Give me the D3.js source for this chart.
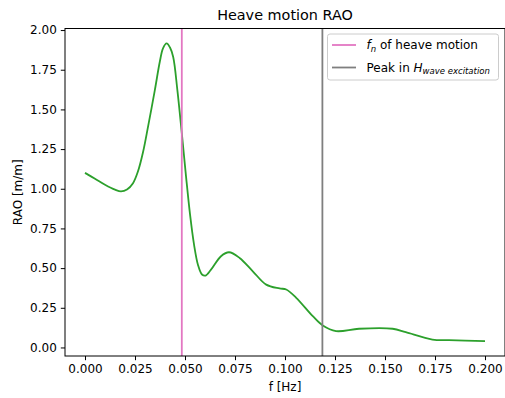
<!DOCTYPE html>
<html>
<head>
<meta charset="utf-8">
<script src="https://cdn.jsdelivr.net/npm/d3@7"></script>
<style>
  html, body { margin: 0; padding: 0; background: #fff; }
  svg { display: block; font-family: "DejaVu Sans", sans-serif; }
</style>
</head>
<body>
<svg id="chart" width="505" height="398"></svg>
<script>
// ---- data ----
const freqHz = [0, 0.005, 0.010, 0.015, 0.018, 0.021, 0.024, 0.0265, 0.029, 0.0315, 0.0349, 0.0374, 0.039, 0.0408, 0.0425, 0.0441, 0.0462, 0.0484, 0.0505, 0.0525, 0.0545, 0.0565, 0.0585, 0.0603, 0.063, 0.068, 0.072, 0.0773, 0.0839, 0.0906, 0.0973, 0.1006, 0.1056, 0.1139, 0.1189, 0.1255, 0.137, 0.1538, 0.1604, 0.1737, 0.182, 0.2];
const raoValues = [1.10, 1.063, 1.025, 0.994, 0.983, 0.995, 1.035, 1.11, 1.23, 1.39, 1.62, 1.80, 1.885, 1.916, 1.89, 1.83, 1.62, 1.35, 1.08, 0.84, 0.65, 0.52, 0.46, 0.453, 0.49, 0.575, 0.60, 0.564, 0.48, 0.396, 0.372, 0.365, 0.313, 0.197, 0.138, 0.103, 0.118, 0.118, 0.096, 0.05, 0.046, 0.04];
const naturalFreq = 0.0484;      // f_n of heave motion
const excitationPeakFreq = 0.1187; // peak in H_wave excitation
const xTicks = [0, 0.025, 0.05, 0.075, 0.1, 0.125, 0.15, 0.175, 0.2];
const yTicks = [0, 0.25, 0.5, 0.75, 1.0, 1.25, 1.5, 1.75, 2.0];

(function () {
// ---- layout ----
const svg = d3.select("#chart");
const pLeft = 65, pRight = 505, pTop = 28.5, pBottom = 356;

const xMin = d3.min(freqHz), xMax = d3.max(freqHz);
const xPad = (xMax - xMin) * 0.05;
const yMin = d3.min(raoValues), yMax = d3.max(raoValues);
const yPad = (yMax - yMin) * 0.05;

const x = d3.scaleLinear().domain([xMin - xPad, xMax + xPad]).range([pLeft, pRight]);
const y = d3.scaleLinear().domain([yMin - yPad, yMax + yPad]).range([pBottom, pTop]);

const data = freqHz.map((f, i) => ({ f, v: raoValues[i] }));

// curve
svg.append("path")
  .datum(data)
  .attr("fill", "none")
  .attr("stroke", "#2ca02c")
  .attr("stroke-width", 1.8)
  .attr("stroke-linejoin", "round")
  .attr("d", d3.line().x(d => x(d.f)).y(d => y(d.v)).curve(d3.curveCatmullRom.alpha(0.5)));

// vertical lines
svg.append("line")
  .attr("x1", x(naturalFreq)).attr("x2", x(naturalFreq))
  .attr("y1", pTop).attr("y2", pBottom)
  .attr("stroke", "#e377c2").attr("stroke-width", 1.8);
svg.append("line")
  .attr("x1", x(excitationPeakFreq)).attr("x2", x(excitationPeakFreq))
  .attr("y1", pTop).attr("y2", pBottom)
  .attr("stroke", "#7f7f7f").attr("stroke-width", 1.8);

// axes
const xAxis = svg.append("g")
  .attr("transform", `translate(0,${pBottom})`)
  .call(d3.axisBottom(x).tickValues(xTicks).tickFormat(d3.format(".3f")).tickSizeOuter(0).tickSize(4.2).tickPadding(4));
const yAxis = svg.append("g")
  .attr("transform", `translate(${pLeft},0)`)
  .call(d3.axisLeft(y).tickValues(yTicks).tickFormat(d3.format(".2f")).tickSizeOuter(0).tickSize(4.2).tickPadding(4));
[xAxis, yAxis].forEach(g => {
  g.select(".domain").remove();
  g.selectAll("text").attr("font-size", 12).attr("fill", "#000").attr("font-family", "DejaVu Sans");
  g.selectAll("line").attr("stroke", "#000").attr("stroke-width", 1);
});

// frame
svg.append("rect")
  .attr("x", pLeft).attr("y", pTop)
  .attr("width", pRight - pLeft).attr("height", pBottom - pTop)
  .attr("fill", "none").attr("stroke", "#000").attr("stroke-width", 1);

// title and labels
svg.append("text").attr("x", (pLeft + pRight) / 2).attr("y", 20)
  .attr("text-anchor", "middle").attr("font-size", 14.4).text("Heave motion RAO");
svg.append("text").attr("x", (pLeft + pRight) / 2).attr("y", 391)
  .attr("text-anchor", "middle").attr("font-size", 12).text("f [Hz]");
svg.append("text")
  .attr("transform", `translate(22,${(pTop + pBottom) / 2}) rotate(-90)`)
  .attr("text-anchor", "middle").attr("font-size", 12).text("RAO [m/m]");

// legend
const lg = svg.append("g");
lg.append("rect").attr("x", 327.5).attr("y", 34).attr("width", 171).attr("height", 46)
  .attr("rx", 2.5).attr("fill", "#fff").attr("fill-opacity", 0.8)
  .attr("stroke", "#cccccc").attr("stroke-width", 1);
const items = [
  { color: "#e377c2", y: 45 },
  { color: "#7f7f7f", y: 67.5 }
];
items.forEach(it => {
  lg.append("line").attr("x1", 332).attr("x2", 356).attr("y1", it.y).attr("y2", it.y)
    .attr("stroke", it.color).attr("stroke-width", 1.8);
});
const t1 = lg.append("text").attr("x", 366.5).attr("y", items[0].y + 4.3).attr("font-size", 12);
t1.append("tspan").attr("font-style", "italic").text("f");
t1.append("tspan").attr("font-style", "italic").attr("font-size", 8.5).attr("dy", 2.5).text("n");
t1.append("tspan").attr("dy", -2.5).text(" of heave motion");
const t2 = lg.append("text").attr("x", 366.5).attr("y", items[1].y + 4.3).attr("font-size", 12);
t2.append("tspan").text("Peak in ");
t2.append("tspan").attr("font-style", "italic").text("H");
t2.append("tspan").attr("font-style", "italic").attr("font-size", 8.5).attr("dy", 2.5).text("wave excitation");
})();
</script>
</body>
</html>
